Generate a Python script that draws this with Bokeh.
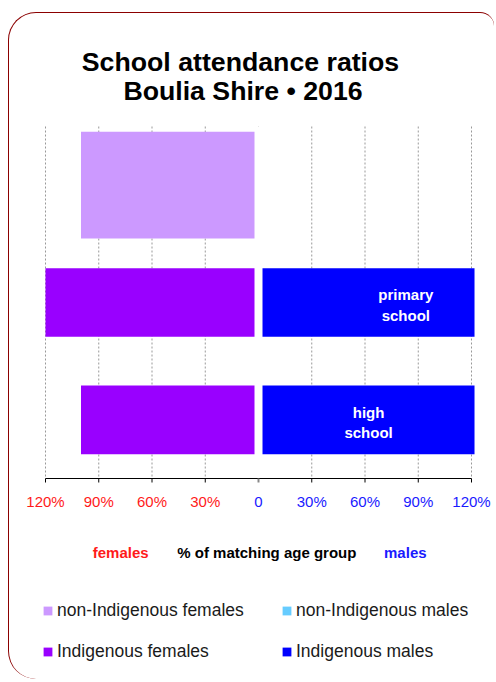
import numpy as np
from bokeh.plotting import figure
from bokeh.models import (Range1d, Label, LabelSet, ColumnDataSource,
                          Legend, LegendItem)
from bokeh.core.properties import value
from bokeh.embed import file_html
from bokeh.resources import INLINE

# ---------------- data ----------------
rows = [0, 1, 2]
row_labels = ["", "primary\nschool", "high\nschool"]
non_indigenous_females = [100, np.nan, np.nan]
non_indigenous_males = [np.nan, np.nan, np.nan]
indigenous_females = [np.nan, 125, 100]
indigenous_males = [np.nan, 166, 124]
tick_values = [-120, -90, -60, -30, 0, 30, 60, 90, 120]
tick_labels = ["120%", "90%", "60%", "30%", "0", "30%", "60%", "90%", "120%"]
title_lines = ["School attendance ratios", "Boulia Shire \u2022 2016"]
axis_texts = ["females", "% of matching age group", "males"]
series_names = ["non-Indigenous females", "non-Indigenous males",
                "Indigenous females", "Indigenous males"]

# ---------------- styles / layout ----------------
FONT = "Liberation Sans"
RED, BLUE = "#ff1a1a", "#1a1aff"
C_NIF, C_NIM, C_IF, C_IM = "#cc99ff", "#66ccff", "#9900ff", "#0000ff"
W, H = 486, 667
CANVAS_X, CANVAS_Y = 9, 13            # page position of the drawing canvas
PA_L, PA_R, PA_T, PA_B = 45, 471, 126, 478   # page pixels of plot area
X_MIN, X_MAX = -120, 120              # axis limits
X_CLIP = 121.7                        # bars run slightly past the last tick
Y_TOP, Y_BOT = -0.5, 2.5              # row band limits
SX = (PA_R - PA_L) / (X_MAX - X_MIN)
SY = (PA_B - PA_T) / (Y_BOT - Y_TOP)
x_start = X_MIN - (PA_L - CANVAS_X) / SX
x_end = x_start + W / SX
y_start = Y_TOP - (PA_T - CANVAS_Y) / SY
y_end = y_start + H / SY


def dx(px):
    return X_MIN + (px - PA_L) / SX


def dy(py):
    return Y_TOP + (py - PA_T) / SY


nif = np.array(non_indigenous_females, dtype=float)
nim = np.array(non_indigenous_males, dtype=float)
inf_ = np.array(indigenous_females, dtype=float)
inm = np.array(indigenous_males, dtype=float)
label_line1 = [s.split("\n")[0] for s in row_labels]
label_line2 = [s.split("\n")[1] if "\n" in s else "" for s in row_labels]

src = ColumnDataSource(dict(
    y=rows, zero=[0] * len(rows),
    nif_left=np.maximum(-nif, X_MIN), nim_right=np.minimum(nim, X_CLIP),
    if_left=np.maximum(-inf_, X_MIN), im_right=np.minimum(inm, X_CLIP),
    label_x=inm / 2, line1=label_line1, line2=label_line2,
))

p = figure(width=W, height=H,
           x_range=Range1d(x_start, x_end), y_range=Range1d(y_end, y_start),
           output_backend="svg", toolbar_location=None,
           x_axis_location=None, y_axis_location=None,
           min_border=0, min_border_left=0, min_border_right=0,
           min_border_top=0, min_border_bottom=0,
           background_fill_color=None, border_fill_color=None,
           outline_line_color=None)
p.xgrid.visible = False
p.ygrid.visible = False
p.margin = (12, 0, 0, 8)
p.styles = {
    "border-top": "1px solid #8b0000",
    "border-left": "1px solid #8b0000",
    "border-top-left-radius": "28px",
    "border-top-right-radius": "14px",
    "border-bottom-left-radius": "28px",
}

# grid lines
tv = np.array(tick_values, dtype=float)
p.segment(x0=tv, y0=[Y_TOP] * len(tv), x1=tv, y1=[Y_BOT] * len(tv),
          line_color="#999999", line_width=1, line_dash="2 2")

# bars
r_nif = p.hbar(y="y", left="nif_left", right="zero", height=0.91, source=src,
               fill_color=C_NIF, line_color=None)
r_nim = p.hbar(y="y", left="zero", right="nim_right", height=0.91, source=src,
               fill_color=C_NIM, line_color=None)
r_if = p.hbar(y="y", left="if_left", right="zero", height=0.585, source=src,
              fill_color=C_IF, line_color=None)
r_im = p.hbar(y="y", left="zero", right="im_right", height=0.585, source=src,
              fill_color=C_IM, line_color=None)

# white gap separating females and males at zero
p.segment(x0=[0], y0=[Y_TOP], x1=[0], y1=[Y_BOT], line_color="white",
          line_width=8)

# axis line and ticks
p.segment(x0=[tv.min()], y0=[Y_BOT], x1=[tv.max()], y1=[Y_BOT],
          line_color="black", line_width=1)
p.segment(x0=tv, y0=[Y_BOT] * len(tv), x1=tv, y1=[Y_BOT + 4 / SY] * len(tv),
          line_color=["#888888" if v == 0 else "black" for v in tick_values],
          line_width=[2 if v == 0 else 1 for v in tick_values])

# labels inside bars (two centred lines)
for col, off in (("line1", 2.3), ("line2", -18.2)):
    p.add_layout(LabelSet(x="label_x", y="y", text=col, source=src,
                          text_align="center", text_baseline="alphabetic",
                          text_color="white", text_font=value(FONT),
                          text_font_style="bold", text_font_size="15px",
                          y_offset=off))

# coloured tick labels
tick_src = ColumnDataSource(dict(
    x=tick_values, text=tick_labels,
    color=[RED if v < 0 else BLUE for v in tick_values]))
p.add_layout(LabelSet(x="x", y=dy(501), text="text", source=tick_src,
                      text_align="center", text_baseline="middle",
                      text_color="color", text_font=value(FONT),
                      text_font_size="15px"))

# title
for txt, cx, base in zip(title_lines, [240, 242.5], [61.7, 90]):
    p.add_layout(Label(x=dx(cx), y=dy(base), text=txt, text_align="center",
                       text_baseline="alphabetic", text_font=FONT,
                       text_font_style="bold", text_font_size="26.7px",
                       text_color="black"))

# axis description row
for txt, cx, col in zip(axis_texts, [120.2, 266.3, 404.8], [RED, "black", BLUE]):
    p.add_layout(Label(x=dx(cx), y=dy(551.7), text=txt, text_align="center",
                       text_baseline="alphabetic", text_font=FONT,
                       text_font_style="bold", text_font_size="15px",
                       text_color=col))

# legends (two columns)
canvas_bottom = CANVAS_Y + H
for items, left in (([(series_names[0], r_nif), (series_names[2], r_if)], 42),
                    ([(series_names[1], r_nim), (series_names[3], r_im)], 281)):
    leg = Legend(items=[LegendItem(label=n, renderers=[r]) for n, r in items],
                 location=(left - CANVAS_X, canvas_bottom - 662),
                 orientation="vertical", glyph_width=11, glyph_height=11,
                 label_standoff=4, spacing=20, padding=0, margin=0,
                 label_height=20, border_line_color=None,
                 background_fill_alpha=0, label_text_font=FONT,
                 label_text_font_size="17.5px", label_text_color="#1a1a1a")
    p.add_layout(leg)

open("out.html", "w").write(file_html(p, INLINE))
